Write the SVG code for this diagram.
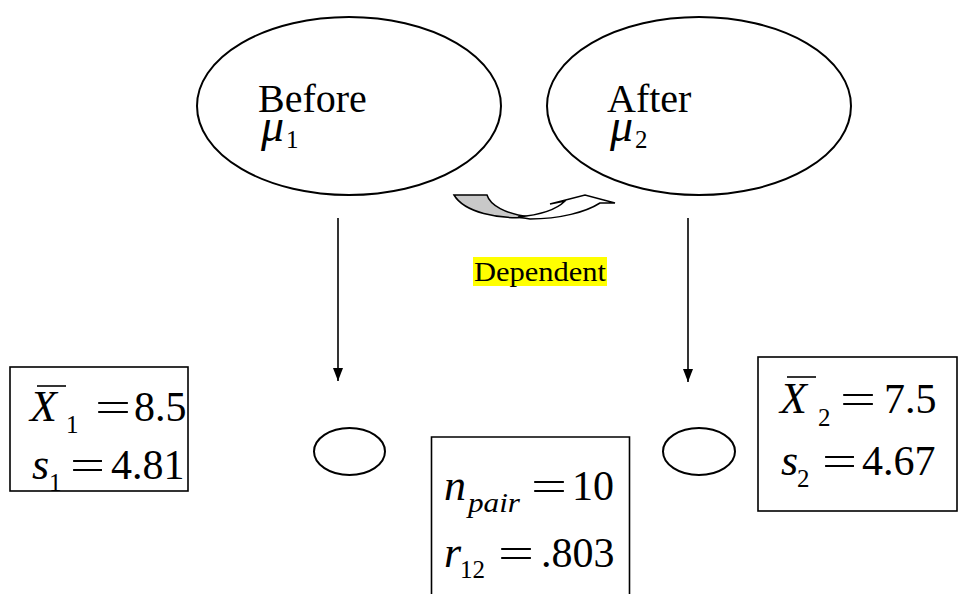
<svg xmlns="http://www.w3.org/2000/svg" width="960" height="594" viewBox="0 0 960 594">
<defs>
<style>
.sh{fill:none;stroke:#000;stroke-width:2}
.bx{fill:#fff;stroke:#000;stroke-width:1.6}
.t{font-family:"Liberation Serif","Times New Roman",serif;fill:#000}
.i{font-style:italic}
.ln{stroke:#000;stroke-width:1.6}
</style>
<marker id="ah" markerWidth="13" markerHeight="10" refX="13" refY="5" orient="auto" markerUnits="userSpaceOnUse" viewBox="0 0 13 10">
<path d="M0,0 L13,5 L0,10 Z" fill="#000"/>
</marker>
</defs>
<rect width="960" height="594" fill="#fff"/>

<g id="before">
<ellipse class="sh" cx="349" cy="106" rx="152" ry="89"/>
<text class="t" x="258" y="112" font-size="40">Before</text>
<text class="t i" x="261" y="141" font-size="46">μ</text>
<text class="t" x="286" y="148" font-size="25">1</text>
</g>

<g id="after">
<ellipse class="sh" cx="699" cy="106" rx="152" ry="89"/>
<text class="t" x="607" y="112" font-size="40">After</text>
<text class="t i" x="610" y="141" font-size="46">μ</text>
<text class="t" x="635" y="148" font-size="25">2</text>
</g>

<g id="dependent">
<path d="M454,195 L487,195 C490,205 505,214 530,217 C498,220 464,212 454,195 Z" fill="#c8c8c8" stroke="#000" stroke-width="1.5"/>
<path d="M518,217 C540,215 557,209 565,201 L550,204 L585,195 L615,203 L600,203 C586,212 560,219 530,219 Z" fill="#fff" stroke="#000" stroke-width="1.5"/>
<rect x="473" y="257" width="134" height="29" fill="#ffff00"/>
<text class="t" x="540" y="281" font-size="27" text-anchor="middle" textLength="132" lengthAdjust="spacingAndGlyphs">Dependent</text>
</g>

<g id="connectors">
<line class="ln" x1="338" y1="218" x2="338" y2="381" marker-end="url(#ah)"/>
<line class="ln" x1="688" y1="218" x2="688" y2="382" marker-end="url(#ah)"/>
</g>

<g id="sample1">
<ellipse class="sh" cx="349.5" cy="451.5" rx="35.5" ry="23.5"/>
</g>
<g id="sample2">
<ellipse class="sh" cx="699" cy="451.5" rx="36" ry="23.5"/>
</g>

<g id="stats1">
<rect class="bx" x="10" y="367" width="178" height="124"/>
<text class="t i" x="30" y="421" font-size="44">X</text>
<line class="ln" x1="37" y1="386" x2="66" y2="386" stroke-width="2"/>
<text class="t" x="66" y="433" font-size="25">1</text>
<text class="t" x="95" y="421" font-size="42" textLength="36" lengthAdjust="spacingAndGlyphs">=</text>
<text class="t" x="134" y="421" font-size="42">8.5</text>
<text class="t i" x="32" y="479" font-size="44">s</text>
<text class="t" x="49" y="491" font-size="25">1</text>
<text class="t" x="70" y="479" font-size="42" textLength="35" lengthAdjust="spacingAndGlyphs">=</text>
<text class="t" x="111" y="479" font-size="42">4.81</text>
</g>

<g id="pair">
<path class="bx" d="M431.5,596 L431.5,437 L629.5,437 L629.5,596"/>
<text class="t i" x="444" y="500" font-size="44">n</text>
<text class="t i" x="468" y="512" font-size="27" textLength="52" lengthAdjust="spacingAndGlyphs">pair</text>
<text class="t" x="531" y="500" font-size="42" textLength="36" lengthAdjust="spacingAndGlyphs">=</text>
<text class="t" x="572" y="500" font-size="42">10</text>
<text class="t i" x="444" y="567" font-size="44">r</text>
<text class="t" x="460" y="578" font-size="25">12</text>
<text class="t" x="498" y="567" font-size="42" textLength="36" lengthAdjust="spacingAndGlyphs">=</text>
<text class="t" x="541" y="567" font-size="42">.803</text>
</g>

<g id="stats2">
<rect class="bx" x="758" y="357" width="199" height="154"/>
<text class="t i" x="780" y="413" font-size="44">X</text>
<line class="ln" x1="787" y1="377" x2="816" y2="377" stroke-width="2"/>
<text class="t" x="818" y="426" font-size="25">2</text>
<text class="t" x="840" y="413" font-size="42" textLength="36" lengthAdjust="spacingAndGlyphs">=</text>
<text class="t" x="884" y="413" font-size="42">7.5</text>
<text class="t i" x="781" y="475" font-size="44">s</text>
<text class="t" x="797" y="487" font-size="25">2</text>
<text class="t" x="822" y="475" font-size="42" textLength="35" lengthAdjust="spacingAndGlyphs">=</text>
<text class="t" x="862" y="475" font-size="42">4.67</text>
</g>
</svg>
